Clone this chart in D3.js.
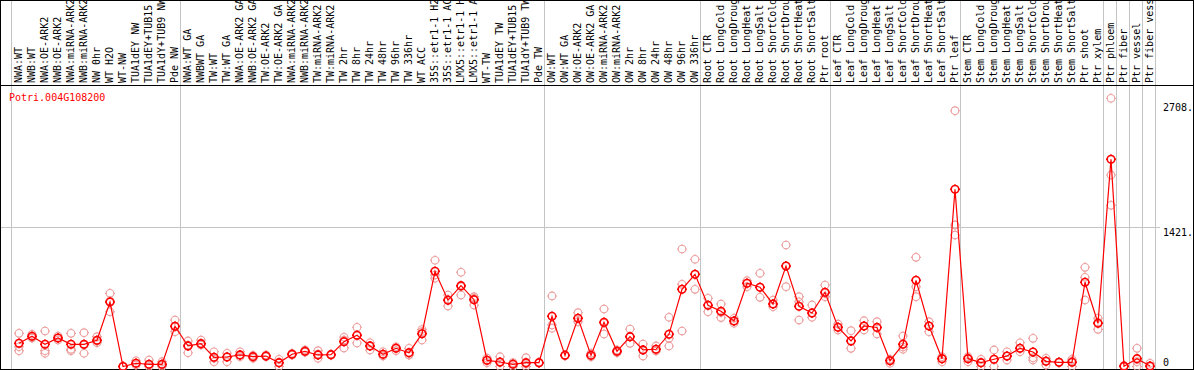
<!DOCTYPE html>
<html>
<head>
<meta charset="utf-8">
<script src="https://cdn.jsdelivr.net/npm/d3@7"></script>
<style>
  body { margin: 0; background: #fff; }
  svg { display: block; }
  text { font-family: "DejaVu Sans Mono", monospace; font-size: 10px; }
</style>
</head>
<body>
<div id="chart"></div>
<script>
// Sample names, in plot order
const samples = [
  "NWA:WT", "NWB:WT", "NWA:OE-ARK2", "NWB:OE-ARK2", "NWA:miRNA-ARK2", "NWB:miRNA-ARK2",
  "NW 0hr", "WT H2O", "WT-NW", "TUA1dEY NW", "TUA1dEY+TUB15", "TUA1dY+TUB9 NW", "Pde NW",
  "NWA:WT GA", "NWBWT GA", "TW:WT", "TW:WT GA", "NWA:OE-ARK2 GA", "NWB:OE-ARK2 GA",
  "TW:OE-ARK2", "TW:OE-ARK2 GA", "NWA:miRNA-ARK2", "NWB:miRNA-ARK2", "TW:miRNA-ARK2",
  "TW:miRNA-ARK2", "TW 2hr", "TW 8hr", "TW 24hr", "TW 48hr", "TW 96hr", "TW 336hr", "WT ACC",
  "35S::etr1-1 H2", "35S::etr1-1 AC", "LMX5::etr1-1 H", "LMX5::etr1-1 A", "WT-TW",
  "TUA1dEY TW", "TUA1dEY+TUB15", "TUA1dY+TUB9 TW", "Pde TW",
  "OW:WT", "OW:WT GA", "OW:OE-ARK2", "OW:OE-ARK2 GA", "OW:miRNA-ARK2", "OW:miRNA-ARK2",
  "OW 2hr", "OW 8hr", "OW 24hr", "OW 48hr", "OW 96hr", "OW 336hr",
  "Root CTR", "Root LongCold", "Root LongDroug", "Root LongHeat", "Root LongSalt",
  "Root ShortCold", "Root ShortDrou", "Root ShortHeat", "Root ShortSalt", "Ptr root",
  "Leaf CTR", "Leaf LongCold", "Leaf LongDroug", "Leaf LongHeat", "Leaf LongSalt",
  "Leaf ShortCold", "Leaf ShortDrou", "Leaf ShortHeat", "Leaf ShortSalt", "Ptr leaf",
  "Stem CTR", "Stem LongCold", "Stem LongDroug", "Stem LongHeat", "Stem LongSalt",
  "Stem ShortCold", "Stem ShortDrou", "Stem ShortHeat", "Stem ShortSalt", "Ptr shoot",
  "Ptr xylem", "Ptr phloem", "Ptr fiber", "Ptr vessel", "Ptr fiber vess"
];

// number of samples in each block separated by a grey line
const groupSizes = [13, 28, 12, 10, 10, 11, 1, 1, 1, 1];

// mean expression per sample
const means = [
  237, 309, 227, 291, 227, 227, 268, 659, 0, 33,
  22, 22, 411, 210, 233, 94, 97, 118, 100, 107,
  39, 125, 155, 118, 121, 254, 319, 210, 125, 186,
  141, 335, 973, 677, 826, 683, 63, 46, 22, 39,
  39, 513, 114, 493, 114, 452, 155, 305, 169, 176,
  329, 789, 943, 626, 564, 465, 851, 810, 639, 1027,
  615, 547, 759, 401, 261, 414, 399, 59, 227, 881,
  414, 80, 1812, 80, 39, 74, 107, 186, 148, 53,
  43, 43, 861, 442, 2118, 3, 80, 5
];

// replicate values
const rep1 = [
  339, 329, 363, 312, 339, 346, 305, 748, 2, 59,
  66, 49, 475, 261, 271, 151, 135, 151, 114, 118,
  74, 135, 169, 162, 115, 299, 401, 243, 151, 202,
  186, 356, 1086, 731, 963, 714, 87, 100, 39, 90,
  40, 721, 114, 550, 135, 588, 155, 383, 230, 210,
  503, 1201, 1096, 697, 639, 493, 877, 953, 680, 1242,
  714, 629, 833, 434, 366, 468, 458, 74, 312, 1116,
  458, 100, 2615, 100, 74, 169, 151, 243, 288, 84,
  40, 74, 1014, 493, 2742, 10, 186, 33
];
const rep2 = [
  202, 299, 162, 271, 176, 220, 261, 560, 0, 33,
  15, 15, 356, 141, 220, 49, 49, 100, 84, 100,
  0, 118, 151, 128, 125, 190, 240, 169, 107, 162,
  118, 271, 902, 618, 731, 629, 39, 0, 0, 27,
  36, 391, 110, 458, 110, 332, 169, 237, 107, 176,
  210, 840, 789, 560, 500, 442, 816, 707, 611, 816,
  475, 503, 714, 401, 186, 414, 332, 33, 176, 714,
  356, 49, 1447, 49, 0, 0, 66, 151, 66, 15,
  45, 0, 912, 380, 1958, 0, 0, 0
];
const rep3 = [
  162, 291, 135, 291, 162, 135, 243, 670, 1, 15,
  0, 0, 407, 220, 237, 84, 100, 118, 107, 107,
  39, 122, 146, 84, 123, 271, 319, 210, 125, 189,
  120, 378, 935, 687, 816, 697, 63, 38, 27, 0,
  41, 424, 118, 493, 100, 442, 141, 305, 169, 158,
  288, 363, 943, 626, 553, 465, 851, 810, 639, 1027,
  662, 544, 748, 373, 261, 373, 401, 66, 199, 816,
  414, 80, 1344, 87, 39, 74, 104, 186, 90, 59,
  44, 56, 680, 452, 1648, 0, 49, 0
];

const geneName = "Potri.004G108200";
const yTicks = [0, 1421, 2708];

const W = 1194, H = 370;
const labelBottom = 85;

const svg = d3.select("#chart").append("svg")
  .attr("width", W)
  .attr("height", H);

svg.append("rect").attr("width", W).attr("height", H).attr("fill", "#fff");

const x = d3.scaleLinear().domain([0, samples.length - 1]).range([19, 1150]);
const y = d3.scaleLinear().domain([0, 2708]).range([366.5, 101.6]);

// grey separators between sample blocks
const bounds = [-1];
let acc = -1;
groupSizes.forEach(n => { acc += n; bounds.push(acc); });

svg.selectAll("line.sep")
  .data(bounds)
  .enter().append("line")
  .attr("class", "sep")
  .attr("x1", d => Math.round(x(d) + 5) + 0.5)
  .attr("x2", d => Math.round(x(d) + 5) + 0.5)
  .attr("y1", 0)
  .attr("y2", H)
  .attr("stroke", "#c4c4c4");

// horizontal grid at the middle tick
svg.append("line")
  .attr("x1", 0).attr("x2", 1160)
  .attr("y1", Math.round(y(1421)) + 0.5)
  .attr("y2", Math.round(y(1421)) + 0.5)
  .attr("stroke", "#c4c4c4");

// rotated sample labels
svg.selectAll("text.lab")
  .data(samples)
  .enter().append("text")
  .attr("class", "lab")
  .attr("transform", (d, i) => `translate(${x(i) + 2.5},${labelBottom - 2}) rotate(-90)`)
  .attr("fill", "#000")
  .text(d => d);

// frame + label divider
svg.append("line")
  .attr("x1", 0).attr("x2", W)
  .attr("y1", labelBottom + 0.5).attr("y2", labelBottom + 0.5)
  .attr("stroke", "#000");
svg.append("rect")
  .attr("x", 0.5).attr("y", 0.5)
  .attr("width", W - 1).attr("height", H - 1)
  .attr("fill", "none")
  .attr("stroke", "#000");

// gene title
svg.append("text")
  .attr("x", 9).attr("y", 101)
  .attr("fill", "#ff0000")
  .text(geneName);

// y tick labels on the right
svg.selectAll("text.ytick")
  .data(yTicks)
  .enter().append("text")
  .attr("class", "ytick")
  .attr("x", 1163)
  .attr("y", d => Math.min(y(d) + 9, 366))
  .attr("fill", "#000")
  .text(d => d === 0 ? "0" : d + ".");

// circle with tiny ticks on four sides
function marker(r) {
  const t = r + 1.2;
  return `M${-r},0a${r},${r} 0 1,0 ${2 * r},0a${r},${r} 0 1,0 ${-2 * r},0` +
    `M0,${-r}V${-t}M0,${r}V${t}M${-r},0H${-t}M${r},0H${t}`;
}

const reps = [];
[rep1, rep2, rep3].forEach(arr => arr.forEach((v, i) => reps.push({ i, v })));

svg.selectAll("path.rep")
  .data(reps)
  .enter().append("path")
  .attr("class", "rep")
  .attr("transform", d => `translate(${x(d.i)},${y(d.v)})`)
  .attr("d", marker(3.8))
  .attr("fill", "none")
  .attr("stroke", "#ec9c9c")
  .attr("stroke-width", 1.1);

const line = d3.line()
  .x((d, i) => x(i))
  .y(d => y(d));

svg.append("path")
  .datum(means)
  .attr("d", line)
  .attr("fill", "none")
  .attr("stroke", "#ff0000")
  .attr("stroke-width", 1.2);

svg.selectAll("path.mean")
  .data(means)
  .enter().append("path")
  .attr("class", "mean")
  .attr("transform", (d, i) => `translate(${x(i)},${y(d)})`)
  .attr("d", marker(3.8))
  .attr("fill", "none")
  .attr("stroke", "#ff0000")
  .attr("stroke-width", 1.6);
</script>
</body>
</html>
